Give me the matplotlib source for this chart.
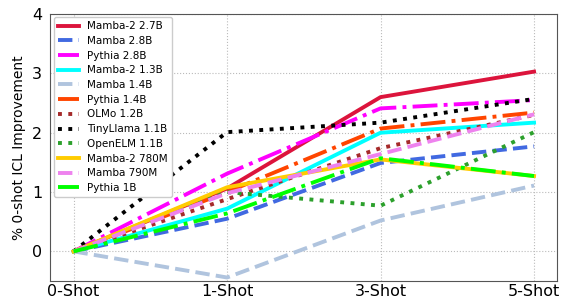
import matplotlib.pyplot as plt

shots = ["0-Shot", "1-Shot", "3-Shot", "5-Shot"]

mamba2_2_7b = [0, 1.06, 2.60, 3.03]
mamba_2_8b = [0, 0.55, 1.49, 1.77]
pythia_2_8b = [0, 1.31, 2.41, 2.55]
mamba2_1_3b = [0, 0.72, 2.00, 2.17]
mamba_1_4b = [0, -0.44, 0.52, 1.11]
pythia_1_4b = [0, 1.00, 2.07, 2.34]
olmo_1_2b = [0, 0.88, 1.74, 2.30]
tinyllama_1_1b = [0, 2.01, 2.17, 2.57]
openelm_1_1b = [0, 1.00, 0.77, 2.01]
mamba2_780m = [0, 1.08, 1.55, 1.27]
mamba_790m = [0, 0.98, 1.64, 2.31]
pythia_1b = [0, 0.64, 1.57, 1.27]

series = [
    ("Mamba-2 2.7B", mamba2_2_7b, "#dc143c", "-"),
    ("Mamba 2.8B", mamba_2_8b, "royalblue", "--"),
    ("Pythia 2.8B", pythia_2_8b, "magenta", "-."),
    ("Mamba-2 1.3B", mamba2_1_3b, "cyan", "-"),
    ("Mamba 1.4B", mamba_1_4b, "lightsteelblue", "--"),
    ("Pythia 1.4B", pythia_1_4b, "orangered", "-."),
    ("OLMo 1.2B", olmo_1_2b, "brown", ":"),
    ("TinyLlama 1.1B", tinyllama_1_1b, "black", ":"),
    ("OpenELM 1.1B", openelm_1_1b, "#2ca02c", ":"),
    ("Mamba-2 780M", mamba2_780m, "#ffcc00", "-"),
    ("Mamba 790M", mamba_790m, "violet", "--"),
    ("Pythia 1B", pythia_1b, "lime", "-."),
]

fig, ax = plt.subplots(figsize=(5.61, 2.99), dpi=100)
x = range(len(shots))
for name, vals, col, ls in series:
    ax.plot(x, vals, color=col, linestyle=ls, linewidth=2.8, label=name)

ax.set_xticks(list(x))
ax.set_xticklabels(shots, fontsize=11.5)
ax.set_yticks([0, 1, 2, 3, 4])
ax.tick_params(axis="y", labelsize=11.5, length=0, pad=6)
ax.tick_params(axis="x", length=0, pad=2)
ax.set_xlim(-0.15, 3.15)
ax.set_ylim(-0.5, 4)
ax.set_ylabel("% 0-shot ICL Improvement", fontsize=10)
ax.grid(True, linestyle=":", color="#bbbbbb", linewidth=0.8)
for s in ax.spines.values():
    s.set_color("#555555")
ax.legend(loc="upper left", fontsize=7.5, handlelength=2.0, labelspacing=0.45,
          borderpad=0.4, framealpha=1, borderaxespad=0.3)

plt.subplots_adjust(left=0.09, right=0.993, top=0.953, bottom=0.06)
plt.savefig("out.png")
